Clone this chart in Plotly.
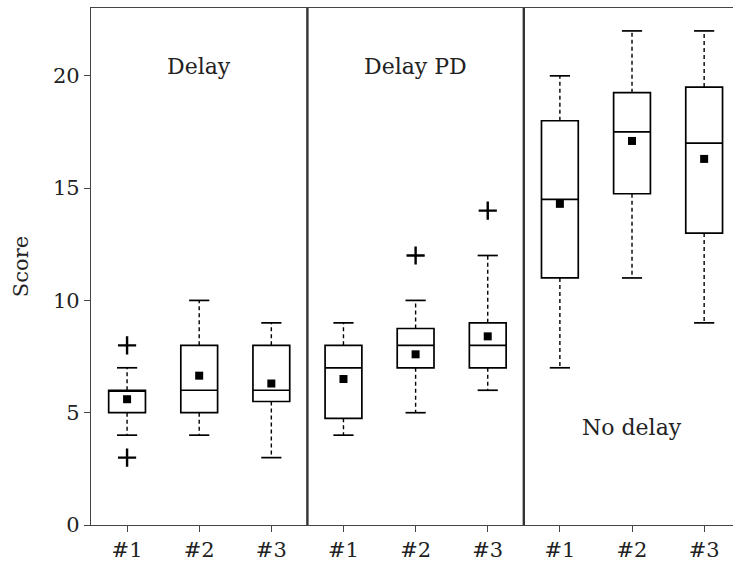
import plotly.graph_objects as go

# ---- data ----
groups = ["Delay", "Delay PD", "No delay"]
tick_labels = ["#1", "#2", "#3", "#1", "#2", "#3", "#1", "#2", "#3"]
positions = [1, 2, 3, 4, 5, 6, 7, 8, 9]
q1 = [5, 5, 5.5, 4.75, 7, 7, 11, 14.75, 13]
median = [6, 6, 6, 7, 8, 8, 14.5, 17.5, 17]
q3 = [6, 8, 8, 8, 8.75, 9, 18, 19.25, 19.5]
whisker_low = [4, 4, 3, 4, 5, 6, 7, 11, 9]
whisker_high = [7, 10, 9, 9, 10, 12, 20, 22, 22]
means = [5.6, 6.65, 6.3, 6.5, 7.6, 8.4, 14.3, 17.1, 16.3]
outlier_x = [1, 1, 5, 6]
outlier_y = [8, 3, 12, 14]
group_label_x = [2, 5, 8]
group_label_y = [20.4, 20.4, 4.35]
separators = [3.5, 6.5]

FONT = "DejaVu Serif"
INK = "#222222"
box_w = 0.51
cap_w = 0.28

fig = go.Figure()

# boxes (fences set to quartiles; whiskers drawn separately dashed)
for i, p in enumerate(positions):
    fig.add_trace(go.Box(
        x=[p], q1=[q1[i]], median=[median[i]], q3=[q3[i]],
        lowerfence=[q1[i]], upperfence=[q3[i]],
        width=box_w, fillcolor="white",
        line=dict(color="black", width=1.7),
        whiskerwidth=0, boxpoints=False, showlegend=False, hoverinfo="skip",
    ))

# dashed whiskers
wx, wy = [], []
for i, p in enumerate(positions):
    wx += [p, p, None, p, p, None]
    wy += [q1[i], whisker_low[i], None, q3[i], whisker_high[i], None]
fig.add_trace(go.Scatter(x=wx, y=wy, mode="lines",
                         line=dict(color="black", width=1.4, dash="4px,3px"),
                         showlegend=False, hoverinfo="skip"))

# caps
cx, cy = [], []
for i, p in enumerate(positions):
    cx += [p - cap_w / 2, p + cap_w / 2, None, p - cap_w / 2, p + cap_w / 2, None]
    cy += [whisker_low[i], whisker_low[i], None, whisker_high[i], whisker_high[i], None]
fig.add_trace(go.Scatter(x=cx, y=cy, mode="lines",
                         line=dict(color="black", width=1.7),
                         showlegend=False, hoverinfo="skip"))

# means
fig.add_trace(go.Scatter(x=positions, y=means, mode="markers",
                         marker=dict(symbol="square", size=8, color="black"),
                         showlegend=False, hoverinfo="skip"))

# outliers
fig.add_trace(go.Scatter(x=outlier_x, y=outlier_y, mode="markers",
                         marker=dict(symbol="cross-thin", size=13,
                                     line=dict(color="black", width=2.4)),
                         showlegend=False, hoverinfo="skip"))

# separators
for s in separators:
    fig.add_shape(type="line", x0=s, x1=s, y0=0, y1=1, yref="paper",
                  line=dict(color="#333333", width=2.4))

# group labels
for g, gx, gy in zip(groups, group_label_x, group_label_y):
    fig.add_annotation(x=gx, y=gy, text=g, showarrow=False,
                       font=dict(family=FONT, size=22, color=INK))

fig.update_layout(
    width=733, height=566,
    margin=dict(l=90.5, r=0, t=8, b=41),
    plot_bgcolor="white", paper_bgcolor="white",
    boxmode="overlay",
    font=dict(family=FONT, size=21, color=INK),
)
fig.update_xaxes(
    range=[0.5, 9.4], tickmode="array", tickvals=positions, ticktext=tick_labels,
    showgrid=False, zeroline=False,
    showline=True, linecolor="#444444", linewidth=1.3, mirror=True,
    ticks="outside", ticklen=6, tickwidth=1.3, tickcolor="#444444",
    tickfont=dict(family=FONT, size=21, color=INK),
)
fig.update_yaxes(
    range=[0, 23.02], tickvals=[0, 5, 10, 15, 20],
    showgrid=False, zeroline=False,
    showline=True, linecolor="#444444", linewidth=1.3,
    ticks="outside", ticklen=6, tickwidth=1.3, tickcolor="#444444",
    tickfont=dict(family=FONT, size=21, color=INK),
    title=dict(text="Score", font=dict(family=FONT, size=21, color=INK), standoff=18),
)

fig.write_html("out.html")
